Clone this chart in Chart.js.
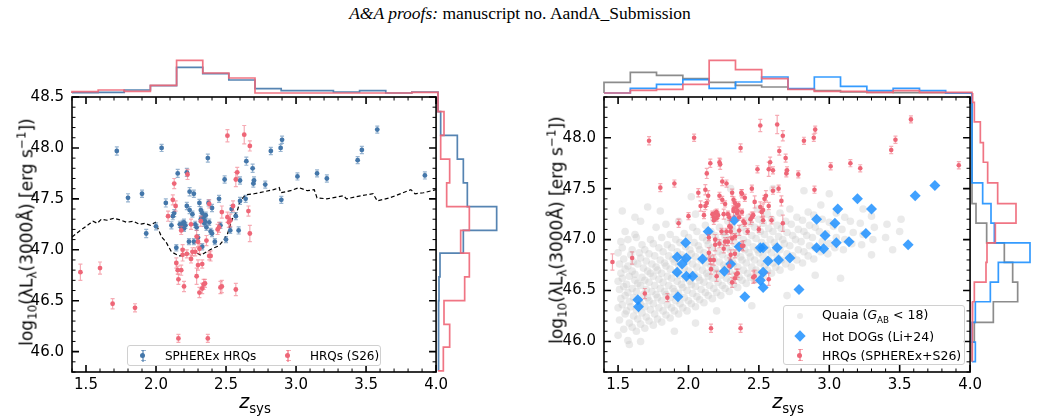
<!DOCTYPE html>
<html>
<head>
<meta charset="utf-8">
<script src="https://cdn.jsdelivr.net/npm/chart.js@4.4.0/dist/chart.umd.min.js"></script>
<style>
  body { margin:0; background:#fff; width:1037px; height:419px; position:relative; overflow:hidden; font-family:'DejaVu Sans', sans-serif; color:#000; }
  canvas { position:absolute; }
  .title { position:absolute; top:3px; left:0; width:1040px; text-align:center; font-family:'Liberation Serif', serif; font-size:17.5px; }
  .ylab { position:absolute; transform:translate(-50%,-50%) rotate(-90deg); white-space:nowrap; font-size:17px; }
  .xlab { position:absolute; transform:translate(-50%,-50%); white-space:nowrap; font-size:19px; }
  sub, sup { font-size:70%; }
  .leg { position:absolute; border:1px solid #d0d0d0; border-radius:3px; background:rgba(255,255,255,0.85); box-sizing:border-box; }
  .lt { position:absolute; white-space:nowrap; transform:translateY(-50%); }
  .eb { position:absolute; width:10px; height:12px; transform:translate(-50%,-50%); }
  .eb .v { position:absolute; left:4.4px; top:0; width:1.3px; height:12px; }
  .eb .c { position:absolute; left:2.5px; width:5px; height:1.3px; }
  .eb .d { position:absolute; left:2.4px; top:3.6px; width:5px; height:5px; border-radius:50%; }
  .dia { position:absolute; width:8px; height:8px; transform:translate(-50%,-50%) rotate(45deg); background:rgba(30,144,255,0.85); }
  .qd { position:absolute; width:6px; height:6px; border-radius:50%; transform:translate(-50%,-50%); background:rgba(200,200,200,0.35); }
</style>
</head>
<body>
<div class="title"><i>A&amp;A proofs:</i> manuscript no. AandA_Submission</div>

<canvas id="sL" width="452" height="339" style="left:0;top:80px"></canvas>
<canvas id="tL" width="370" height="40" style="left:70px;top:55px"></canvas>
<canvas id="rL" width="64" height="279" style="left:436px;top:93px"></canvas>

<canvas id="sR" width="456" height="339" style="left:530px;top:80px"></canvas>
<canvas id="tR" width="372" height="40" style="left:602px;top:55px"></canvas>
<canvas id="rR" width="67" height="279" style="left:970px;top:93px"></canvas>

<div class="ylab" style="left:27px;top:232px">log<sub>10</sub>(λL<sub>λ</sub>(3000Å) [erg s<sup>−1</sup>])</div>
<div class="ylab" style="left:557px;top:230px">log<sub>10</sub>(λL<sub>λ</sub>(3000Å) [erg s<sup>−1</sup>])</div>
<div class="xlab" style="left:255px;top:403px"><i>z</i><sub>sys</sub></div>
<div class="xlab" style="left:788px;top:403px"><i>z</i><sub>sys</sub></div>

<div class="leg" style="left:127px;top:345px;width:254px;height:21px"></div>
<div class="eb" style="left:143px;top:355.5px"><div class="v" style="background:rgba(68,119,170,0.55)"></div><div class="c" style="top:0;background:rgba(68,119,170,0.55)"></div><div class="c" style="top:10.7px;background:rgba(68,119,170,0.55)"></div><div class="d" style="background:#4477AA"></div></div>
<div class="lt" style="left:165px;top:355.5px;font-size:12px">SPHEREx HRQs</div>
<div class="eb" style="left:288px;top:355.5px"><div class="v" style="background:rgba(238,102,119,0.55)"></div><div class="c" style="top:0;background:rgba(238,102,119,0.55)"></div><div class="c" style="top:10.7px;background:rgba(238,102,119,0.55)"></div><div class="d" style="background:#EE6677"></div></div>
<div class="lt" style="left:310px;top:355.5px;font-size:12px">HRQs (S26)</div>

<div class="leg" style="left:783px;top:305px;width:182px;height:60px"></div>
<div class="qd" style="left:800px;top:316px"></div>
<div class="lt" style="left:822px;top:316px;font-size:12.5px">Quaia (<i>G</i><sub>AB</sub> &lt; 18)</div>
<div class="dia" style="left:800px;top:336px"></div>
<div class="lt" style="left:822px;top:336px;font-size:12.5px">Hot DOGs (Li+24)</div>
<div class="eb" style="left:800px;top:355px"><div class="v" style="background:rgba(238,102,119,0.55)"></div><div class="c" style="top:0;background:rgba(238,102,119,0.55)"></div><div class="c" style="top:10.7px;background:rgba(238,102,119,0.55)"></div><div class="d" style="background:#EE6677"></div></div>
<div class="lt" style="left:822px;top:355px;font-size:12.5px">HRQs (SPHEREx+S26)</div>

<script>
// ---------------- DATA ----------------
const xTicks  = [1.5, 2.0, 2.5, 3.0, 3.5, 4.0];
const yTicksL = [46.0, 46.5, 47.0, 47.5, 48.0, 48.5];
const yTicksR = [46.0, 46.5, 47.0, 47.5, 48.0];

// SPHEREx HRQs: [z_sys, log L3000, error]
const sphxHRQ = [
[1.72,47.97,0.04],[1.80,47.51,0.04],[1.90,47.55,0.035],[1.93,47.16,0.04],[2.00,47.23,0.035],
[2.04,48.00,0.035],[2.07,47.46,0.04],[2.11,47.24,0.035],[2.12,47.33,0.035],[2.13,47.36,0.035],
[2.145,47.02,0.03],[2.155,47.75,0.04],[2.17,47.25,0.03],[2.18,47.22,0.03],[2.19,47.26,0.03],
[2.20,47.21,0.03],[2.20,47.27,0.03],[2.21,47.24,0.03],[2.22,47.76,0.04],[2.22,47.43,0.035],
[2.235,47.08,0.03],[2.24,47.57,0.04],[2.24,47.39,0.035],[2.26,47.35,0.03],[2.27,47.08,0.03],
[2.27,47.55,0.035],[2.28,47.25,0.03],[2.29,47.22,0.03],[2.30,47.12,0.03],[2.31,47.46,0.035],
[2.32,47.39,0.03],[2.32,47.30,0.03],[2.33,47.03,0.03],[2.33,47.36,0.03],[2.34,47.32,0.03],
[2.345,47.26,0.03],[2.35,47.28,0.03],[2.355,47.34,0.03],[2.36,47.22,0.03],[2.37,47.90,0.04],
[2.375,47.46,0.03],[2.38,47.27,0.03],[2.39,47.18,0.03],[2.40,47.41,0.035],[2.40,47.16,0.03],
[2.42,47.08,0.03],[2.45,47.50,0.035],[2.46,47.24,0.03],[2.49,47.69,0.035],[2.50,47.10,0.03],
[2.53,47.19,0.03],[2.54,47.40,0.035],[2.57,47.33,0.035],[2.59,47.19,0.035],[2.60,47.48,0.035],
[2.60,47.68,0.035],[2.64,47.50,0.035],[2.645,47.87,0.04],[2.69,47.80,0.04],[2.695,47.65,0.035],
[2.70,47.68,0.035],[2.78,47.64,0.035],[2.82,47.97,0.035],[2.89,48.00,0.035],[2.90,48.08,0.035],
[2.895,47.49,0.035],[3.01,47.72,0.035],[3.15,47.75,0.035],[3.22,47.70,0.035],[3.44,47.88,0.035],
[3.47,47.98,0.035],[3.58,48.18,0.035],[3.92,47.73,0.035]
];

// HRQs (S26): [z_sys, log L3000, error]
const s26HRQ = [
[1.46,46.78,0.08],[1.60,46.82,0.06],[1.69,46.47,0.05],[1.85,46.43,0.04],[2.086,47.33,0.05],
[2.12,47.49,0.05],[2.13,47.65,0.05],[2.14,47.43,0.05],[2.145,46.87,0.05],[2.155,46.80,0.04],
[2.16,46.71,0.05],[2.16,46.13,0.04],[2.18,46.80,0.05],[2.18,47.19,0.04],[2.19,47.00,0.05],
[2.19,46.95,0.06],[2.20,46.64,0.05],[2.22,46.96,0.04],[2.225,47.74,0.05],[2.25,46.91,0.04],
[2.25,47.25,0.05],[2.26,46.98,0.04],[2.28,46.98,0.04],[2.29,46.74,0.08],[2.29,47.13,0.06],
[2.30,46.85,0.05],[2.30,47.08,0.05],[2.31,47.01,0.05],[2.31,46.58,0.05],[2.32,47.28,0.05],
[2.33,46.62,0.05],[2.33,46.86,0.04],[2.34,46.66,0.05],[2.35,46.67,0.04],[2.36,47.09,0.05],
[2.37,46.13,0.04],[2.38,46.94,0.04],[2.38,47.45,0.04],[2.39,46.94,0.05],[2.44,47.20,0.05],
[2.45,47.22,0.05],[2.46,46.63,0.06],[2.47,46.64,0.06],[2.47,47.37,0.06],[2.51,48.12,0.06],
[2.51,47.32,0.05],[2.52,47.27,0.05],[2.53,47.29,0.06],[2.55,47.43,0.05],[2.57,46.61,0.06],
[2.57,47.69,0.07],[2.58,47.76,0.05],[2.63,48.13,0.09],[2.66,47.38,0.05],[2.67,47.16,0.08],
[2.67,48.02,0.05]
];

// Hot DOGs (Li+24): [z_sys, log L3000]
const hotDOGs = [
[2.325,47.19],[2.14,47.08],[1.98,46.97],[2.91,47.20],[3.04,47.16],[3.06,47.30],[3.20,47.40],
[3.30,47.30],[3.26,47.06],[2.97,47.04],[3.14,46.98],[3.05,46.97],[3.56,46.95],[3.61,47.43],
[3.75,47.53],[2.51,46.92],[2.53,46.92],[2.63,46.92],[2.91,46.92],[2.96,46.91],[2.36,46.93],
[1.92,46.83],[1.985,46.82],[1.955,46.76],[1.92,46.68],[1.985,46.64],[2.03,46.64],[1.925,46.44],
[1.64,46.41],[1.645,46.34],[2.10,46.81],[2.30,46.76],[2.255,46.69],[2.40,46.44],[2.565,46.79],
[2.64,46.80],[2.72,46.82],[2.53,46.68],[2.51,46.60],[2.53,46.53],[2.785,46.51]
];

// Quaia (G_AB < 18): [z_sys, log L3000]
const quaia = [
[1.50,46.06],[1.51,46.21],[1.50,46.33],[1.52,46.42],[1.51,46.51],[1.50,46.59],[1.52,46.67],[1.51,46.76],[1.50,46.87],[1.52,46.98],
[1.54,46.12],[1.55,46.27],[1.53,46.36],[1.55,46.45],[1.54,46.54],[1.53,46.62],[1.55,46.71],[1.54,46.81],[1.53,46.92],[1.55,47.08],
[1.57,46.01],[1.58,46.18],[1.56,46.30],[1.58,46.39],[1.57,46.48],[1.56,46.56],[1.58,46.64],[1.57,46.74],[1.59,46.85],[1.57,47.00],
[1.60,46.14],[1.61,46.25],[1.59,46.34],[1.61,46.43],[1.60,46.52],[1.62,46.60],[1.60,46.69],[1.61,46.78],[1.60,46.90],[1.62,47.05],
[1.63,46.10],[1.64,46.22],[1.63,46.31],[1.65,46.40],[1.63,46.49],[1.64,46.57],[1.62,46.66],[1.64,46.76],[1.65,46.87],[1.63,47.02],
[1.66,46.17],[1.67,46.28],[1.66,46.37],[1.68,46.46],[1.66,46.55],[1.67,46.63],[1.68,46.72],[1.66,46.82],[1.67,46.95],[1.66,47.18],
[1.69,46.13],[1.70,46.24],[1.69,46.34],[1.71,46.43],[1.70,46.51],[1.69,46.60],[1.71,46.69],[1.70,46.79],[1.69,46.90],
[1.72,46.20],[1.73,46.31],[1.72,46.40],[1.74,46.49],[1.72,46.58],[1.73,46.67],[1.74,46.76],[1.72,46.86],[1.73,47.00],
[1.75,46.16],[1.76,46.27],[1.75,46.37],[1.77,46.46],[1.76,46.55],[1.75,46.64],[1.77,46.73],[1.76,46.84],[1.75,46.96],[1.77,47.12],
[1.78,46.22],[1.79,46.33],[1.78,46.43],[1.80,46.52],[1.79,46.61],[1.78,46.70],[1.80,46.80],[1.79,46.92],
[1.81,46.19],[1.82,46.30],[1.81,46.40],[1.83,46.49],[1.82,46.58],[1.81,46.67],[1.83,46.77],[1.82,46.88],[1.81,47.02],
[1.84,46.26],[1.85,46.36],[1.84,46.46],[1.86,46.55],[1.85,46.64],[1.84,46.74],[1.86,46.84],[1.85,46.95],[1.84,47.15],
[1.87,46.23],[1.88,46.33],[1.87,46.43],[1.89,46.52],[1.88,46.62],[1.87,46.71],[1.89,46.81],[1.88,46.92],[1.87,47.05],
[1.90,46.30],[1.91,46.40],[1.90,46.49],[1.92,46.59],[1.91,46.68],[1.90,46.78],[1.92,46.88],[1.91,47.00],
[1.93,46.27],[1.94,46.37],[1.93,46.47],[1.95,46.56],[1.94,46.65],[1.93,46.75],[1.95,46.85],[1.94,46.97],[1.93,47.18],
[1.96,46.33],[1.97,46.43],[1.96,46.53],[1.98,46.62],[1.97,46.72],[1.96,46.82],[1.98,46.93],[1.97,47.06],
[1.99,46.30],[2.00,46.40],[1.99,46.50],[2.01,46.59],[2.00,46.69],[1.99,46.79],[2.01,46.90],[2.00,47.02],
[2.02,46.37],[2.03,46.47],[2.02,46.56],[2.04,46.66],[2.03,46.76],[2.02,46.86],[2.04,46.97],[2.03,47.12],
[2.05,46.34],[2.06,46.44],[2.05,46.54],[2.07,46.63],[2.06,46.73],[2.05,46.83],[2.07,46.94],[2.06,47.08],[2.05,47.25],
[2.08,46.41],[2.09,46.51],[2.08,46.60],[2.10,46.70],[2.09,46.80],[2.08,46.90],[2.10,47.02],
[2.11,46.38],[2.12,46.48],[2.11,46.58],[2.13,46.67],[2.12,46.77],[2.11,46.87],[2.13,46.99],[2.12,47.14],
[2.14,46.45],[2.15,46.55],[2.14,46.64],[2.16,46.74],[2.15,46.84],[2.14,46.95],[2.16,47.08],
[2.17,46.42],[2.18,46.52],[2.17,46.62],[2.19,46.71],[2.18,46.81],[2.17,46.92],[2.19,47.04],[2.18,47.20],
[2.20,46.48],[2.21,46.58],[2.20,46.68],[2.22,46.78],[2.21,46.88],[2.20,46.99],[2.22,47.12],
[2.23,46.45],[2.24,46.55],[2.23,46.65],[2.25,46.75],[2.24,46.85],[2.23,46.96],[2.25,47.07],
[2.26,46.52],[2.27,46.62],[2.26,46.72],[2.28,46.82],[2.27,46.92],[2.26,47.03],[2.28,47.18],
[2.29,46.49],[2.30,46.59],[2.29,46.69],[2.31,46.79],[2.30,46.89],[2.29,47.00],[2.31,47.13],
[2.32,46.56],[2.33,46.66],[2.32,46.76],[2.34,46.86],[2.33,46.96],[2.32,47.08],[2.34,47.26],
[2.35,46.53],[2.36,46.63],[2.35,46.73],[2.37,46.83],[2.36,46.93],[2.35,47.04],
[2.38,46.60],[2.39,46.70],[2.38,46.80],[2.40,46.90],[2.39,47.00],[2.38,47.12],
[2.41,46.57],[2.42,46.67],[2.41,46.77],[2.43,46.87],[2.42,46.97],[2.41,47.08],[2.43,47.22],
[2.44,46.63],[2.45,46.73],[2.44,46.83],[2.46,46.93],[2.45,47.04],[2.44,47.16],
[2.47,46.60],[2.48,46.70],[2.47,46.80],[2.49,46.90],[2.48,47.01],[2.47,47.12],[2.49,47.30],
[2.50,46.67],[2.51,46.77],[2.50,46.87],[2.52,46.97],[2.51,47.08],[2.50,47.20],
[2.53,46.64],[2.54,46.74],[2.53,46.84],[2.55,46.94],[2.54,47.05],[2.53,47.16],
[2.56,46.70],[2.57,46.80],[2.56,46.90],[2.58,47.00],[2.57,47.11],[2.56,47.25],
[2.59,46.67],[2.60,46.77],[2.59,46.87],[2.61,46.97],[2.60,47.08],[2.59,47.20],
[2.62,46.73],[2.63,46.83],[2.62,46.93],[2.64,47.03],[2.63,47.14],
[2.65,46.70],[2.66,46.80],[2.65,46.90],[2.67,47.00],[2.66,47.11],[2.65,47.26],
[2.69,46.76],[2.70,46.86],[2.68,46.96],[2.70,47.07],[2.69,47.18],
[2.73,46.73],[2.74,46.84],[2.72,46.94],[2.74,47.04],[2.73,47.15],[2.72,47.30],
[2.77,46.80],[2.78,46.90],[2.76,47.00],[2.78,47.10],[2.77,47.22],
[2.81,46.77],[2.82,46.88],[2.80,46.98],[2.82,47.08],[2.81,47.19],
[2.85,46.84],[2.86,46.94],[2.84,47.04],[2.86,47.14],[2.85,47.27],
[2.89,46.81],[2.90,46.92],[2.88,47.02],[2.90,47.12],[2.89,47.24],
[2.94,46.88],[2.95,46.98],[2.93,47.08],[2.95,47.20],[2.94,47.34],
[2.99,46.86],[3.00,46.96],[2.98,47.06],[3.00,47.17],
[3.04,46.92],[3.05,47.02],[3.03,47.13],[3.05,47.26],
[3.10,46.90],[3.11,47.00],[3.09,47.10],[3.11,47.22],
[3.16,46.96],[3.17,47.07],[3.15,47.18],
[3.23,46.95],[3.24,47.05],[3.22,47.16],[3.24,47.30],
[3.31,47.00],[3.32,47.12],[3.30,47.23],
[3.40,47.02],[3.41,47.15],
[3.50,47.08],[3.51,47.20],
[1.53,47.28],[1.62,47.22],[1.71,47.32],[1.58,45.97],[1.66,46.00],[1.90,46.10],[2.05,46.18],[2.30,47.50],
[2.02,47.42],[2.60,47.50],[2.82,47.48],[3.08,46.62],[3.30,46.85],[3.45,46.90],[2.45,46.35],[2.70,46.45],
[3.00,47.45],[1.80,47.28],[2.20,46.30],[2.90,46.65]
];

// dashed luminosity limit (left panel): [z_sys, log L3000]
const lumLimit = [
[1.40,47.125],[1.46,47.19],[1.53,47.26],[1.55,47.28],[1.58,47.26],[1.61,47.30],[1.65,47.29],[1.70,47.31],
[1.75,47.29],[1.79,47.27],[1.84,47.28],[1.88,47.25],[1.92,47.26],[1.96,47.24],[1.995,47.27],[2.02,47.19],
[2.04,47.125],[2.07,47.08],[2.09,47.03],[2.11,46.98],[2.15,46.95],[2.17,46.94],[2.22,46.95],[2.26,46.98],
[2.28,46.98],[2.32,46.945],[2.36,46.98],[2.40,47.01],[2.45,47.04],[2.48,47.09],[2.51,47.155],[2.53,47.24],
[2.55,47.32],[2.58,47.38],[2.60,47.48],[2.64,47.54],[2.70,47.55],[2.77,47.57],[2.84,47.59],[2.88,47.61],
[2.89,47.56],[2.96,47.58],[3.02,47.61],[3.08,47.58],[3.13,47.59],[3.15,47.51],[3.22,47.50],[3.34,47.53],
[3.36,47.50],[3.46,47.53],[3.55,47.55],[3.58,47.48],[3.67,47.51],[3.82,47.59],[3.85,47.55],[3.91,47.56],
[4.00,47.59]
];

// top marginal histograms (z bins), heights as read
const zEdges    = [1.4, 1.586, 1.771, 1.957, 2.143, 2.329, 2.514, 2.7, 2.886, 3.071, 3.257, 3.443, 3.629, 3.814, 4.0];
const topSphx   = [1, 2, 9, 22, 77, 58, 39, 13, 7, 7, 3, 7, 0, 3];
const topS26    = [4, 9, 5, 23, 98, 60, 45, 0, 0, 0, 0, 0, 0, 2];
const topQuaia  = [32, 62, 53, 43, 32, 23, 18, 12, 7, 3, 2, 1, 1, 0];
const topDOGs   = [0, 14, 26, 40, 14, 33, 48, 13, 48, 20, 7, 14, 7, 0];
const topHRQall = [0, 8, 11, 26, 98, 70, 43, 11, 5, 5, 2, 7, 2, 2];

// right marginal histograms (luminosity bins)
const lEdgesL   = [48.55, 48.32, 48.09, 47.86, 47.63, 47.40, 47.17, 46.95, 46.72, 46.49, 46.26, 46.04, 45.81];
const sideSphx  = [0, 8, 58, 76, 88, 176, 76, 6, 3, 2, 2, 2];
const sideS26   = [0, 18, 8, 35, 26, 94, 68, 94, 80, 18, 35, 16];
const lEdgesR   = [48.50, 48.31, 48.12, 47.92, 47.73, 47.53, 47.33, 47.14, 46.95, 46.76, 46.57, 46.38, 46.18, 45.99, 45.80];
const sideHRQall= [2, 7, 25, 34, 47, 77, 132, 70, 45, 42, 7, 2, 2, 0];
const sideDOGs  = [0, 0, 0, 0, 0, 32, 57, 67, 174, 79, 55, 10, 0, 10];
const sideQuaia = [0, 0, 0, 0, 0, 0, 12, 44, 97, 122, 137, 64, 7, 0];

// ---------------- STYLE / HELPERS ----------------
const BLUE = '#4477AA', RED = '#EE6677';
const BLUE_E = 'rgba(68,119,170,0.55)', RED_E = 'rgba(238,102,119,0.55)';
const DOG = 'rgba(30,144,255,0.85)';
Chart.defaults.font.family = "'DejaVu Sans', sans-serif";
Chart.defaults.color = '#000';
Chart.defaults.animation = false;

const errPlugin = {
  id: 'errbars',
  beforeDatasetDraw(chart, args) {
    const ds = chart.data.datasets[args.index];
    if (!ds.errColor) return;
    const ctx = chart.ctx, xs = chart.scales.x, ys = chart.scales.y;
    ctx.save();
    ctx.strokeStyle = ds.errColor; ctx.lineWidth = 1.2;
    ds.data.forEach(p => {
      const x = xs.getPixelForValue(p.x);
      const y1 = ys.getPixelForValue(p.y - p.err), y2 = ys.getPixelForValue(p.y + p.err);
      ctx.beginPath();
      ctx.moveTo(x, y1); ctx.lineTo(x, y2);
      ctx.moveTo(x - 2, y1); ctx.lineTo(x + 2, y1);
      ctx.moveTo(x - 2, y2); ctx.lineTo(x + 2, y2);
      ctx.stroke();
    });
    ctx.restore();
  }
};

const framePlugin = {
  id: 'frame',
  afterDraw(chart, args, o) {
    if (!o || !o.xMajor) return;
    const ctx = chart.ctx, xs = chart.scales.x, ys = chart.scales.y;
    const {left, right, top, bottom} = chart.chartArea;
    ctx.save();
    ctx.strokeStyle = '#000';
    ctx.lineWidth = 1;
    ctx.beginPath();
    for (let k = Math.ceil(xs.min * 10 - 1e-6); k <= Math.floor(xs.max * 10 + 1e-6); k++) {
      if (k % 5 === 0) continue;
      const p = xs.getPixelForValue(k / 10);
      ctx.moveTo(p, bottom); ctx.lineTo(p, bottom - 3.5);
      ctx.moveTo(p, top); ctx.lineTo(p, top + 3.5);
    }
    for (let k = Math.ceil(ys.min * 10 - 1e-6); k <= Math.floor(ys.max * 10 + 1e-6); k++) {
      if (k % 5 === 0) continue;
      const p = ys.getPixelForValue(k / 10);
      ctx.moveTo(left, p); ctx.lineTo(left + 3.5, p);
      ctx.moveTo(right, p); ctx.lineTo(right - 3.5, p);
    }
    ctx.stroke();
    ctx.lineWidth = 1.6;
    ctx.beginPath();
    o.xMajor.forEach(v => {
      const p = xs.getPixelForValue(v);
      ctx.moveTo(p, bottom); ctx.lineTo(p, bottom - 7);
      ctx.moveTo(p, top); ctx.lineTo(p, top + 7);
    });
    o.yMajor.forEach(v => {
      const p = ys.getPixelForValue(v);
      ctx.moveTo(left, p); ctx.lineTo(left + 7, p);
      ctx.moveTo(right, p); ctx.lineTo(right - 7, p);
    });
    ctx.stroke();
    ctx.strokeRect(left, top, right - left, bottom - top);
    ctx.restore();
  }
};
Chart.register(errPlugin, framePlugin);

const withErr = arr => arr.map(([x, y, err]) => ({x, y, err}));
const pts = arr => arr.map(([x, y]) => ({x, y}));

function scatterOptions(yMin, yMax, yTicks, yWidth, padRight) {
  return {
    responsive: false, animation: false,
    layout: {padding: {top: 13, right: padRight, left: 0, bottom: 0}},
    plugins: {legend: {display: false}, tooltip: {enabled: false},
              frame: {xMajor: xTicks, yMajor: yTicks}},
    scales: {
      x: {type: 'linear', min: 1.4, max: 4.0,
          grid: {display: false, drawTicks: false}, border: {display: false},
          afterBuildTicks: s => { s.ticks = xTicks.map(v => ({value: v})); },
          afterFit: s => { s.height = 47; },
          ticks: {autoSkip: false, maxRotation: 0, padding: 4, font: {size: 15}, color: '#000',
                  callback: v => Number(v).toFixed(1)}},
      y: {type: 'linear', min: yMin, max: yMax,
          grid: {display: false, drawTicks: false}, border: {display: false},
          afterBuildTicks: s => { s.ticks = yTicks.map(v => ({value: v})); },
          afterFit: s => { s.width = yWidth; },
          ticks: {autoSkip: false, padding: 8, font: {size: 15}, color: '#000',
                  callback: v => Number(v).toFixed(1)}}
    }
  };
}

// ---------------- LEFT PANEL ----------------
new Chart(document.getElementById('sL'), {
  type: 'scatter',
  data: {datasets: [
    {label: 'HRQs (S26)', data: withErr(s26HRQ), backgroundColor: RED, borderWidth: 0,
     pointRadius: 2.4, errColor: RED_E},
    {label: 'SPHEREx HRQs', data: withErr(sphxHRQ), backgroundColor: BLUE, borderWidth: 0,
     pointRadius: 2.4, errColor: BLUE_E},
    {label: 'limit', data: pts(lumLimit), showLine: true, borderColor: '#000', borderWidth: 1.2,
     borderDash: [4, 2.5], pointRadius: 0, tension: 0}
  ]},
  options: scatterOptions(45.8, 48.5, yTicksL, 72, 14)
});

function topSteps(edges, h) {
  const out = [{x: edges[0], y: 0}];
  h.forEach((c, i) => { out.push({x: edges[i], y: c}, {x: edges[i + 1], y: c}); });
  out.push({x: edges[edges.length - 1], y: 0});
  return out;
}
function sideSteps(edges, w) {
  const out = [{x: 0, y: edges[0]}];
  w.forEach((c, i) => { out.push({x: c, y: edges[i]}, {x: c, y: edges[i + 1]}); });
  out.push({x: 0, y: edges[edges.length - 1]});
  return out;
}
function histDs(data, color) {
  return {data, showLine: true, borderColor: color, borderWidth: 1.7, pointRadius: 0,
          tension: 0, clip: false, fill: false};
}
function histOptions(xmin, xmax, ymin, ymax) {
  return {responsive: false, animation: false, layout: {padding: 0},
    plugins: {legend: {display: false}, tooltip: {enabled: false}},
    scales: {x: {type: 'linear', display: false, min: xmin, max: xmax},
             y: {type: 'linear', display: false, min: ymin, max: ymax}}};
}

const pxL = 366 / 2.6;
new Chart(document.getElementById('tL'), {
  type: 'scatter',
  data: {datasets: [histDs(topSteps(zEdges, topS26), 'rgba(238,102,119,0.9)'),
                    histDs(topSteps(zEdges, topSphx), 'rgba(68,119,170,0.9)')]},
  options: histOptions(1.4 - 2 / pxL, 4.0 + 2 / pxL, -6, 114)
});
new Chart(document.getElementById('rL'), {
  type: 'scatter',
  data: {datasets: [histDs(sideSteps(lEdgesL, sideS26), 'rgba(238,102,119,0.9)'),
                    histDs(sideSteps(lEdgesL, sideSphx), 'rgba(68,119,170,0.9)')]},
  options: histOptions(-6, 186, 45.8, 48.5)
});

// ---------------- RIGHT PANEL ----------------
const allHRQ = sphxHRQ.concat(s26HRQ);
new Chart(document.getElementById('sR'), {
  type: 'scatter',
  data: {datasets: [
    {label: 'HRQs (SPHEREx+S26)', data: withErr(allHRQ), backgroundColor: RED, borderWidth: 0,
     pointRadius: 2.3, errColor: RED_E},
    {label: 'Hot DOGs (Li+24)', data: pts(hotDOGs), backgroundColor: DOG, borderWidth: 0,
     pointStyle: 'rectRot', pointRadius: 5.5},
    {label: 'Quaia', data: pts(quaia), backgroundColor: 'rgba(200,200,200,0.38)', borderWidth: 0,
     pointRadius: 3.8}
  ]},
  options: scatterOptions(45.7, 48.4, yTicksR, 74, 14)
});
const pxR = 368 / 2.6;
new Chart(document.getElementById('tR'), {
  type: 'scatter',
  data: {datasets: [histDs(topSteps(zEdges, topHRQall), 'rgba(238,102,119,0.9)'),
                    histDs(topSteps(zEdges, topDOGs), 'rgba(30,144,255,0.9)'),
                    histDs(topSteps(zEdges, topQuaia), 'rgba(128,128,128,0.9)')]},
  options: histOptions(1.4 - 2 / pxR, 4.0 + 2 / pxR, -6, 114)
});
new Chart(document.getElementById('rR'), {
  type: 'scatter',
  data: {datasets: [histDs(sideSteps(lEdgesR, sideHRQall), 'rgba(238,102,119,0.9)'),
                    histDs(sideSteps(lEdgesR, sideDOGs), 'rgba(30,144,255,0.9)'),
                    histDs(sideSteps(lEdgesR, sideQuaia), 'rgba(128,128,128,0.9)')]},
  options: histOptions(-6, 195, 45.7, 48.4)
});
</script>
</body>
</html>
